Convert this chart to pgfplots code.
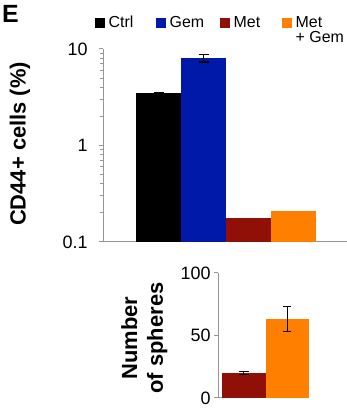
\documentclass[border=0pt]{standalone}
\usepackage{pgfplots}
\pgfplotsset{compat=1.18}
\usepackage{fontspec}
\setmainfont{Liberation Sans}
\definecolor{gemblue}{RGB}{0,25,168}
\definecolor{metred}{RGB}{144,16,8}
\definecolor{mgorange}{RGB}{255,128,0}
\definecolor{axgray}{RGB}{150,150,150}
\pgfplotsset{
  common/.style={
    scale only axis,
    axis x line=bottom, axis y line=left,
    axis line style={-, axgray, line width=1bp},
    xtick=\empty,
    tick align=outside,
    major tick length=4bp,
    y tick style={axgray, line width=1bp},
    /pgf/number format/assume math mode=true,
    yticklabel style={font=\fontsize{18}{18}\selectfont},
    ylabel style={font=\bfseries\fontsize{22}{26}\selectfont},
    clip=false,
  },
  err/.style={error bars/.cd, y dir=both, y explicit,
    error bar style={black, line width=1.2bp},
    error mark options={rotate=90, black, mark size=#1, line width=1.2bp}},
  err/.default=5bp,
}
\begin{document}
\begin{tikzpicture}
\path[use as bounding box] (0,0) rectangle (347bp,408bp);
\node[anchor=north west, inner sep=0pt, font=\bfseries\fontsize{25}{25}\selectfont] at (2bp,403bp) {E};
\begin{axis}[common,
  at={(103bp,166bp)}, anchor=south west,
  width=244bp, height=193bp,
  xmin=103, xmax=347,
  ymode=log, ymin=0.1, ymax=10, log origin=infty,
  ytick={0.1,1,10}, yticklabels={0.1,1,10},
  yticklabel style={xshift=-8bp},
  ylabel={CD44+ cells (\%)},
  ylabel style={at={(axis description cs:-0.34,0.508)}, anchor=center},
  legend columns=4,
  legend style={draw=none, fill=none, at={(axis description cs:-0.035,1.18)}, anchor=north west,
    font=\fontsize{16}{16}\selectfont, inner sep=0pt, column sep=0bp,
    /tikz/every odd column/.append style={column sep=3bp},
    /tikz/every even column/.append style={column sep=0bp},
    nodes={anchor=base west, inner sep=1bp}},
  legend image code/.code={\path[#1,draw=none] (0bp,-0.5bp) rectangle (10bp,9.5bp);},
]
\addplot[ybar, bar width=45, bar shift=0pt, fill=black, draw=none, err] coordinates {(158.5,3.47) +- (0,0.08)};
\addlegendentry{\makebox[46bp][l]{Ctrl}}
\addplot[ybar, bar width=45, bar shift=0pt, fill=gemblue, draw=none, err] coordinates {(203.5,8.07) +- (0,0.75)};
\addlegendentry{\makebox[49bp][l]{Gem}}
\addplot[ybar, bar width=45, bar shift=0pt, fill=metred, draw=none] coordinates {(248.5,0.179)};
\addlegendentry{\makebox[47bp][l]{Met}}
\addplot[ybar, bar width=45, bar shift=0pt, fill=mgorange, draw=none] coordinates {(293.5,0.211)};
\addlegendentry{\begin{tabular}[t]{@{}l@{}}Met\\+ Gem\end{tabular}}
\end{axis}
\begin{axis}[common,
  at={(218bp,10bp)}, anchor=south west,
  width=91bp, height=125bp,
  xmin=218, xmax=309,
  ymin=0, ymax=100,
  ytick={0,50,100},
  ylabel={Number\\of spheres},
  ylabel style={at={(axis description cs:-0.81,0.48)}, anchor=center, align=center},
]
\addplot[ybar, bar width=43.5, bar shift=0pt, fill=metred, draw=none, err] coordinates {(243.75,20) +- (0,1)};
\addplot[ybar, bar width=43.5, bar shift=0pt, fill=mgorange, draw=none, err=4bp] coordinates {(287.25,63) +- (0,10)};
\end{axis}
\end{tikzpicture}
\end{document}
